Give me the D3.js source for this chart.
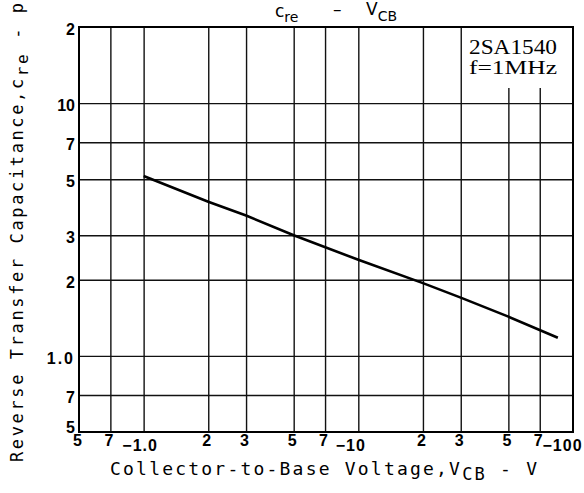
<!DOCTYPE html>
<html>
<head>
<meta charset="utf-8">
<script src="https://cdn.jsdelivr.net/npm/d3@7"></script>
<style>
  body { margin: 0; background: #fff; }
  svg { display: block; }
</style>
</head>
<body>
<div id="chart"></div>
<script>
// cre vs VCB (VCB shown as magnitude)
var vcb = [1, 2, 3, 5, 10, 20, 30, 50, 85];
var cre = [5.15, 4.07, 3.59, 3.0, 2.4, 1.94, 1.7, 1.43, 1.18];

var xGrid = [0.7, 1, 2, 3, 5, 7, 10, 20, 30, 50, 70];
var yGrid = [0.7, 1, 2, 3, 5, 7, 10];
var xTickValues = [0.5, 0.7, 1, 2, 3, 5, 7, 10, 20, 30, 50, 70, 100];
var xTickText = ["5", "7", "\u22121.0", "2", "3", "5", "7", "\u221210", "2", "3", "5", "7", "\u2212100"];
var yTickValues = [0.5, 0.7, 1, 2, 3, 5, 7, 10, 20];
var yTickText = ["5", "7", "1.0", "2", "3", "5", "7", "10", "2"];

var svgWidth = 584;
var svgHeight = 493;
var margin = {t: 27, r: 11, b: 61, l: 79};
var width = svgWidth - margin.l - margin.r;
var height = svgHeight - margin.t - margin.b;

var svg = d3.select("#chart")
    .append("svg")
    .attr("width", svgWidth)
    .attr("height", svgHeight);

var chartGroup = svg.append("g")
    .attr("transform", `translate(${margin.l}, ${margin.t})`);

var x = d3.scaleLog().domain([0.5, 100]).range([0, width]);
var y = d3.scaleLog().domain([0.5, 20]).range([height, 0]);

// grid
chartGroup.append("g")
    .attr("class", "grid")
    .attr("transform", `translate(0, ${height})`)
    .call(d3.axisBottom(x).tickValues(xGrid).tickSize(-height).tickFormat(""))
    .call(g => g.select(".domain").remove())
    .call(g => g.selectAll("line").attr("stroke", "#111").attr("stroke-width", 1.4));

chartGroup.append("g")
    .attr("class", "grid")
    .call(d3.axisLeft(y).tickValues(yGrid).tickSize(-width).tickFormat(""))
    .call(g => g.select(".domain").remove())
    .call(g => g.selectAll("line").attr("stroke", "#111").attr("stroke-width", 1.4));

// legend box covers part of the grid
chartGroup.append("rect")
    .attr("x", x(30) + 2)
    .attr("y", 0)
    .attr("width", width - x(30) - 2)
    .attr("height", 61)
    .attr("fill", "#fff");

chartGroup.append("text")
    .attr("x", 390)
    .attr("y", 27)
    .attr("font-family", "Liberation Serif, serif")
    .attr("font-size", "20px")
    .attr("textLength", 88)
    .attr("lengthAdjust", "spacingAndGlyphs")
    .text("2SA1540");

chartGroup.append("text")
    .attr("x", 390)
    .attr("y", 47)
    .attr("font-family", "Liberation Serif, serif")
    .attr("font-size", "19px")
    .attr("textLength", 88)
    .attr("lengthAdjust", "spacingAndGlyphs")
    .text("f=1MHz");

// frame
chartGroup.append("rect")
    .attr("x", 0)
    .attr("y", 0)
    .attr("width", width)
    .attr("height", height)
    .attr("fill", "none")
    .attr("stroke", "#000")
    .attr("stroke-width", 2);

// curve
var line = d3.line()
    .x((d, i) => x(d))
    .y((d, i) => y(cre[i]));

chartGroup.append("path")
    .datum(vcb)
    .attr("d", line)
    .attr("fill", "none")
    .attr("stroke", "#000")
    .attr("stroke-width", 2.6);

// tick labels
var xAxis = chartGroup.append("g")
    .attr("transform", `translate(0, ${height})`)
    .call(d3.axisBottom(x).tickValues(xTickValues).tickSize(0).tickPadding(3)
        .tickFormat((d, i) => xTickText[i]));
xAxis.select(".domain").remove();
xAxis.selectAll("text")
    .attr("font-family", "Liberation Sans, Arial, sans-serif")
    .attr("font-weight", "bold")
    .attr("font-size", "16px")
    .attr("fill", "#000")
    .attr("letter-spacing", (d, i) => xTickText[i].length > 1 ? "1px" : "0px")
    .attr("dx", (d, i) => xTickText[i].length > 1 ? (d == 1 ? -4 : (d == 10 ? -8 : -11)) : -2)
    .attr("dy", (d, i) => xTickText[i].length > 1 ? "1.0em" : "0.71em");

var yAxis = chartGroup.append("g")
    .call(d3.axisLeft(y).tickValues(yTickValues).tickSize(0).tickPadding(4)
        .tickFormat((d, i) => yTickText[i]));
yAxis.select(".domain").remove();
yAxis.selectAll("text")
    .attr("font-family", "Liberation Sans, Arial, sans-serif")
    .attr("font-weight", "bold")
    .attr("font-size", "16px")
    .attr("fill", "#000")
    .attr("letter-spacing", (d, i) => yTickText[i] == "1.0" ? "2px" : "0px")
    .attr("dy", (d, i) => d == 0.5 ? "0.0em" : "0.45em");

// title
var title = svg.append("text")
    .attr("x", 275)
    .attr("y", 17)
    .attr("font-family", "DejaVu Sans, sans-serif")
    .attr("font-size", "17px")
    .attr("fill", "#000");
title.append("tspan").text("c");
title.append("tspan").attr("dy", 5).attr("font-size", "14px").text("re");
title.append("tspan").attr("x", 333).attr("dy", -7).text("\u2013");
title.append("tspan").attr("x", 366).text("V");
title.append("tspan").attr("dy", 6).attr("font-size", "14px").text("CB");

// axis titles
var xLabel = svg.append("text")
    .attr("x", 110)
    .attr("y", 475)
    .attr("font-family", "DejaVu Sans Mono, monospace")
    .attr("font-size", "18px")
    .attr("fill", "#000")
    .attr("textLength", 427)
    .attr("lengthAdjust", "spacing");
xLabel.append("tspan").text("Collector-to-Base Voltage,V");
xLabel.append("tspan").attr("dy", 5).attr("font-size", "17px").text("CB");
xLabel.append("tspan").attr("dy", -5).text(" - V");

var yLabel = svg.append("text")
    .attr("transform", "translate(23, 462) rotate(-90)")
    .attr("font-family", "DejaVu Sans Mono, monospace")
    .attr("font-size", "17px")
    .attr("fill", "#000")
    .attr("textLength", 472)
    .attr("lengthAdjust", "spacing");
yLabel.append("tspan").text("Reverse Transfer Capacitance,c");
yLabel.append("tspan").attr("dy", 5).attr("font-size", "16px").text("re");
yLabel.append("tspan").attr("dy", -5).text(" - pF");
</script>
</body>
</html>
